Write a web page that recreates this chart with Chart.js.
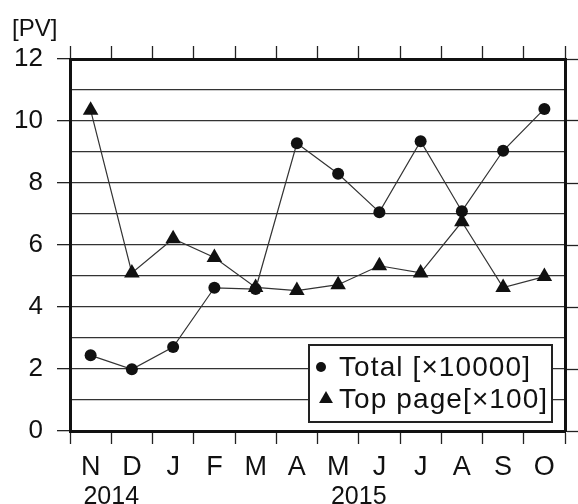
<!DOCTYPE html>
<html>
<head>
<meta charset="utf-8">
<script src="https://cdn.jsdelivr.net/npm/chart.js@4.4.0/dist/chart.umd.min.js"></script>
<style>
  html, body { margin: 0; padding: 0; background: #fff; }
  #wrap { width: 578px; height: 504px; }
</style>
</head>
<body>
<div id="wrap"><canvas id="myChart" width="578" height="504"></canvas></div>
<script>
// months Nov 2014 .. Oct 2015
const months = ['N', 'D', 'J', 'F', 'M', 'A', 'M', 'J', 'J', 'A', 'S', 'O'];
const totalPV = [2.44, 1.99, 2.71, 4.62, 4.58, 9.28, 8.30, 7.06, 9.35, 7.09, 9.04, 10.39];
const topPagePV = [10.35, 5.10, 6.20, 5.60, 4.63, 4.53, 4.72, 5.33, 5.10, 6.75, 4.63, 4.98];
const seriesNames = ['Total [×10000]', 'Top page[×100]'];
const yearLabels = ['2014', '2015'];
const yearAt = [0.5, 6.5]; // between N/D and M/J
const unitLabel = '[PV]';

const FONT = '"Liberation Sans", Arial, sans-serif';
const INK = '#111';

// title "[PV]" in the top-left corner
const unitPlugin = {
    id: 'unitLabel',
    afterDraw(chart) {
        const c = chart.ctx;
        c.save();
        c.fillStyle = INK;
        c.font = '24px ' + FONT;
        c.textBaseline = 'alphabetic';
        c.fillText(unitLabel, 12, 36);
        c.restore();
    }
};

// year text under the month labels
const yearPlugin = {
    id: 'years',
    afterDraw(chart) {
        const x = chart.scales.x;
        const c = chart.ctx;
        c.save();
        c.fillStyle = INK;
        c.font = '25px ' + FONT;
        c.textAlign = 'center';
        c.textBaseline = 'alphabetic';
        yearLabels.forEach((t, i) => {
            const a = x.getPixelForValue(Math.floor(yearAt[i]));
            const b = x.getPixelForValue(Math.ceil(yearAt[i]));
            c.fillText(t, (a + b) / 2, chart.chartArea.bottom + 73);
        });
        c.restore();
    }
};

// boxed legend inside the bottom-right of the plot
const boxLegend = {
    id: 'boxLegend',
    afterDraw(chart) {
        const area = chart.chartArea;
        const c = chart.ctx;
        const w = 243, h = 77;
        const right = area.right - 13, bottom = area.bottom - 9;
        const left = right - w, top = bottom - h;
        c.save();
        c.fillStyle = '#fff';
        c.fillRect(left, top, w, h);
        c.lineWidth = 2;
        c.strokeStyle = '#222';
        c.strokeRect(left, top, w, h);
        c.font = '28px ' + FONT;
        if ('letterSpacing' in c) c.letterSpacing = '1.1px';
        c.fillStyle = INK;
        c.textBaseline = 'middle';
        chart.data.datasets.forEach((ds, i) => {
            const cy = top + 22 + i * 32;
            const mx = left + (i === 0 ? 12 : 17);
            Chart.helpers.drawPoint(c, {
                pointStyle: ds.pointStyle,
                radius: i === 0 ? 5 : 8,
                borderWidth: 0
            }, mx, cy);
            c.fillStyle = INK;
            c.fillText(ds.label, left + 30, cy + 1);
        });
        c.restore();
    }
};

const ctx = document.getElementById('myChart').getContext('2d');

new Chart(ctx, {
    type: 'line',
    data: {
        labels: months,
        datasets: [{
            label: seriesNames[0],
            data: totalPV,
            xAxisID: 'x',
            yAxisID: 'y',
            borderColor: '#333',
            borderWidth: 1.2,
            pointStyle: 'circle',
            pointRadius: 6,
            pointBackgroundColor: INK,
            pointBorderColor: INK,
            pointBorderWidth: 0,
            tension: 0
        }, {
            label: seriesNames[1],
            data: topPagePV,
            xAxisID: 'x',
            yAxisID: 'y',
            borderColor: '#333',
            borderWidth: 1.2,
            pointStyle: 'triangle',
            pointRadius: 9,
            pointBackgroundColor: INK,
            pointBorderColor: INK,
            pointBorderWidth: 0,
            tension: 0
        }]
    },
    options: {
        responsive: false,
        animation: false,
        events: [],
        layout: { padding: { top: 46, right: 0, left: 0, bottom: 0 } },
        plugins: {
            legend: { display: false },
            tooltip: { enabled: false }
        },
        scales: {
            x: {
                type: 'category',
                position: 'bottom',
                offset: true,
                grid: {
                    offset: true,
                    drawOnChartArea: false,
                    tickLength: 13,
                    tickColor: '#222',
                    tickWidth: 1.3
                },
                border: { display: true, color: INK, width: 3 },
                ticks: {
                    color: INK,
                    font: { family: FONT, size: 27 },
                    padding: 7,
                    maxRotation: 0,
                    autoSkip: false
                },
                afterFit(s) { s.height = 73; }
            },
            xTop: {
                type: 'category',
                position: 'top',
                offset: true,
                grid: {
                    offset: true,
                    drawOnChartArea: false,
                    tickLength: 13,
                    tickColor: '#222',
                    tickWidth: 1.3
                },
                border: { display: true, color: INK, width: 3 },
                ticks: { display: false },
                afterFit(s) { s.height = 13; }
            },
            y: {
                position: 'left',
                min: 0,
                max: 12,
                grid: {
                    color: '#333',
                    lineWidth: 1.3,
                    tickLength: 13,
                    tickWidth: 1.3,
                    tickColor: c => (c.tick && c.tick.value % 2 === 0) ? '#222' : 'rgba(0,0,0,0)'
                },
                border: { display: true, color: INK, width: 3 },
                ticks: {
                    stepSize: 1,
                    maxTicksLimit: 20,
                    autoSkip: false,
                    color: INK,
                    padding: 14,
                    font: { family: FONT, size: 26 },
                    callback: v => (v % 2 === 0 ? v : '')
                },
                afterFit(s) { s.width = 70; }
            },
            yRight: {
                position: 'right',
                min: 0,
                max: 12,
                grid: {
                    drawOnChartArea: false,
                    tickLength: 13,
                    tickWidth: 1.3,
                    tickColor: '#222'
                },
                border: { display: true, color: INK, width: 3 },
                ticks: { stepSize: 2, display: false },
                afterFit(s) { s.width = 13; }
            }
        }
    },
    plugins: [unitPlugin, yearPlugin, boxLegend]
});
</script>
</body>
</html>
